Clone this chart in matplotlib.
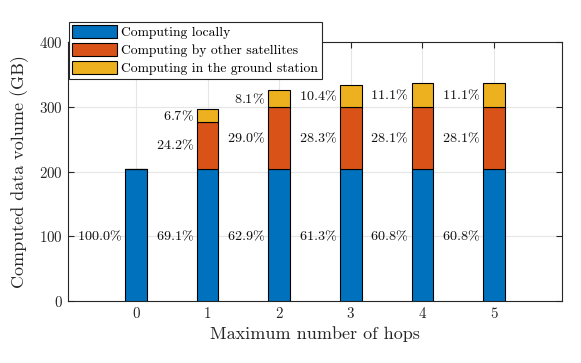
import numpy as np
import matplotlib
matplotlib.use("Agg")
import matplotlib.pyplot as plt

# computed data volume (GB) per maximum number of hops
hops = [0, 1, 2, 3, 4, 5]
local = [204.6, 204.6, 204.6, 204.6, 204.6, 204.6]
by_sats = [0.0, 71.6, 94.3, 94.6, 94.6, 94.6]
ground = [0.0, 19.8, 26.4, 34.7, 37.4, 37.4]
series_names = ["Computing locally", "Computing by other satellites",
                "Computing in the ground station"]

plt.rcParams['font.family'] = 'serif'
plt.rcParams['font.serif'] = ['cmr10']
plt.rcParams['mathtext.fontset'] = 'cm'
plt.rcParams['axes.formatter.use_mathtext'] = True

colors = ['#0072BD', '#D95319', '#EDB120']
w = 0.3

fig = plt.figure(figsize=(5.81, 3.63), dpi=100)
ax = fig.add_axes([68/581, 1 - 301/363, 494/581, 259/363])

x = np.array(hops)
loc = np.array(local)
sat = np.array(by_sats)
gnd = np.array(ground)
total = loc + sat + gnd

ax.bar(x, loc, w, color=colors[0], edgecolor='k', linewidth=0.8, label=series_names[0], zorder=3)
ax.bar(x, sat, w, bottom=loc, color=colors[1], edgecolor='k', linewidth=0.8, label=series_names[1], zorder=3)
ax.bar(x, gnd, w, bottom=loc + sat, color=colors[2], edgecolor='k', linewidth=0.8, label=series_names[2], zorder=3)

def pct(v):
    return r'$\mathrm{%.1f\%%}$' % v

# percentage labels to the left of each segment
fs = 10.2
for i in range(len(x)):
    xl = x[i] - w/2 - 0.045
    ax.text(xl, 100, pct(100*loc[i]/total[i]), ha='right', va='center', fontsize=fs, color='#111111')
    if sat[i] > 0:
        ax.text(xl, loc[i] + sat[i]/2, pct(100*sat[i]/total[i]), ha='right', va='center', fontsize=fs, color='#111111')
    if gnd[i] > 0:
        ax.text(xl, loc[i] + sat[i] + gnd[i]/2, pct(100*gnd[i]/total[i]), ha='right', va='center', fontsize=fs, color='#111111')

ax.set_xlim(-0.95, 5.95)
ax.set_ylim(0, 400)
ax.set_xticks(hops)
ax.set_yticks([0, 100, 200, 300, 400])
ax.grid(True, color='#e6e6e6', linewidth=0.8, zorder=0)
ax.set_axisbelow(True)
ax.tick_params(direction='in', top=True, right=True, labelsize=10.8, length=4, width=0.8, colors='#262626')
for s in ax.spines.values():
    s.set_color('#262626')
    s.set_linewidth(0.8)

ax.set_xlabel("Maximum number of hops", fontsize=13, color='#262626', labelpad=4)
ax.set_ylabel("Computed data volume (GB)", fontsize=13, color='#262626', labelpad=7)

leg = ax.legend(loc='upper left', bbox_to_anchor=(0.002, 1.078), fontsize=9.8,
                frameon=True, fancybox=False, edgecolor='#262626', framealpha=1,
                borderpad=0.25, labelspacing=0.3, handlelength=3.3, handleheight=1.05,
                handletextpad=0.3, borderaxespad=0)
leg.get_frame().set_linewidth(0.8)

fig.savefig("out.png", dpi=100)
